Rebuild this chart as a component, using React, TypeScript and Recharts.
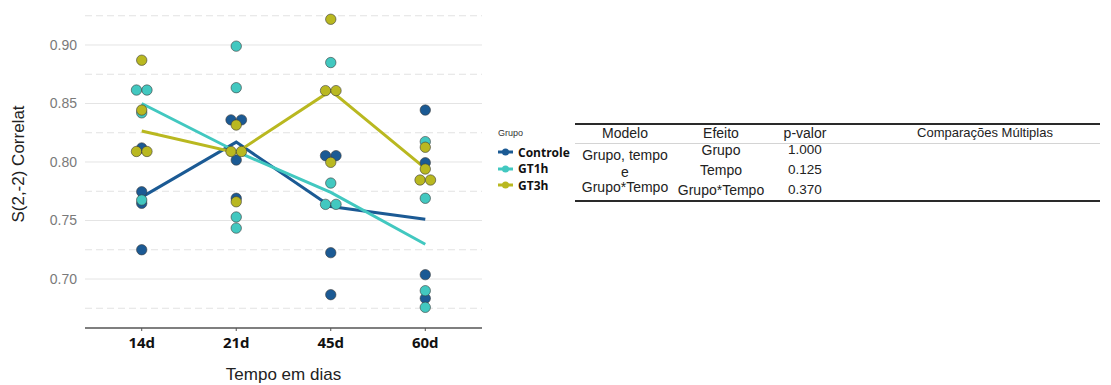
import React from 'react';
import {
  ComposedChart,
  Scatter,
  Line,
  XAxis,
  YAxis,
  CartesianGrid,
  Legend,
  Label,
} from 'recharts';

// Sampling days on the x axis
const days = ['14d', '21d', '45d', '60d'];

// Individual S(2,-2) correlation values per animal, one list per day
const controleValues = [
  [0.812, 0.7746, 0.7647, 0.725],
  [0.836, 0.836, 0.8017, 0.769],
  [0.8054, 0.8054, 0.7225, 0.6866],
  [0.8444, 0.7994, 0.7037, 0.6835],
];
const gt1hValues = [
  [0.8615, 0.8615, 0.842, 0.7675],
  [0.899, 0.8635, 0.753, 0.7435],
  [0.885, 0.782, 0.7638, 0.7638],
  [0.8174, 0.769, 0.69, 0.6758],
];
const gt3hValues = [
  [0.887, 0.8444, 0.809, 0.809],
  [0.8316, 0.809, 0.809, 0.766],
  [0.922, 0.861, 0.861, 0.7997],
  [0.8126, 0.794, 0.7846, 0.7846],
];

// Group trend per day
const controleTrend = [0.77, 0.817, 0.762, 0.751];
const gt1hTrend = [0.85, 0.809, 0.774, 0.7297];
const gt3hTrend = [0.8265, 0.808, 0.861, 0.7946];

// Axis ticks
const majorTicks = [0.7, 0.75, 0.8, 0.85, 0.9];
const minorTicks = [0.675, 0.725, 0.775, 0.825, 0.875, 0.925];

// Statistics table
const tableHeader = ['Modelo', 'Efeito', 'p-valor', 'Comparações Múltiplas'];
const modelLines = ['Grupo, tempo', 'e', 'Grupo*Tempo'];
const effects = ['Grupo', 'Tempo', 'Grupo*Tempo'];
const pValues = ['1.000', '0.125', '0.370'];

const groups = [
  { name: 'Controle', color: '#1b5a94', values: controleValues, trend: controleTrend },
  { name: 'GT1h', color: '#42c8c0', values: gt1hValues, trend: gt1hTrend },
  { name: 'GT3h', color: '#b9b820', values: gt3hValues, trend: gt3hTrend },
];

const DODGE = 10.5;
const AXIS_FONT = '"Liberation Sans", Arial, sans-serif';
const BOLD_FONT = '"Open Sans", "Liberation Sans", sans-serif';

// Points with identical values on the same day are placed side by side
function buildPoints(values: number[][]) {
  const pts: { x: number; y: number; slot: number; n: number }[] = [];
  values.forEach((dayVals, i) => {
    const seen: Record<string, number> = {};
    dayVals.forEach((v) => {
      const key = v.toFixed(4);
      const n = dayVals.filter((w) => w.toFixed(4) === key).length;
      const slot = seen[key] ?? 0;
      seen[key] = slot + 1;
      pts.push({ x: i + 1, y: v, slot, n });
    });
  });
  return pts;
}

function buildTrend(trend: number[]) {
  return trend.map((y, i) => ({ x: i + 1, y }));
}

const makeDot = (color: string) => (props: any) => {
  const { cx, cy, payload } = props;
  if (cx == null || cy == null) return <g />;
  const off = (payload.slot - (payload.n - 1) / 2) * DODGE;
  return (
    <circle cx={cx + off} cy={cy} r={5.2} fill={color} stroke="#3b3b3b" strokeWidth={0.6} />
  );
};

const LegendBox = () => (
  <div style={{ fontFamily: BOLD_FONT }}>
    <div style={{ fontFamily: AXIS_FONT, fontSize: 9, color: '#333', marginBottom: 6, marginLeft: 2 }}>
      Grupo
    </div>
    {groups.map((g) => (
      <div key={g.name} style={{ display: 'flex', alignItems: 'center', height: 16.5 }}>
        <svg width={18} height={10} style={{ marginRight: 4 }}>
          <line x1={2} y1={5} x2={17} y2={5} stroke={g.color} strokeWidth={3} />
          <circle cx={9.5} cy={5} r={3.5} fill={g.color} />
        </svg>
        <span style={{ fontSize: 12, fontWeight: 700, color: '#111' }}>{g.name}</span>
      </div>
    ))}
  </div>
);

const cell = (text: string, cx: number, cy: number, key: string, size: number) => (
  <div
    key={key}
    style={{
      position: 'absolute',
      left: cx - 100,
      top: cy - 9,
      width: 200,
      height: 18,
      lineHeight: '18px',
      textAlign: 'center',
      whiteSpace: 'nowrap',
      fontSize: size,
    }}
  >
    {text}
  </div>
);

const StatsTable = () => {
  const colX = [50, 146, 230, 410];
  const rowY = [27, 47, 67];
  const modelY = [32, 48.5, 64];
  return (
    <div
      style={{
        position: 'absolute',
        left: 575,
        top: 123,
        width: 525,
        height: 80,
        fontFamily: AXIS_FONT,
        color: '#222',
      }}
    >
      <div style={{ position: 'absolute', left: 0, top: 0, width: 525, height: 2, background: '#2a2a2a' }} />
      <div style={{ position: 'absolute', left: 0, top: 20, width: 525, height: 1, background: '#d4d4d4' }} />
      <div style={{ position: 'absolute', left: 0, top: 77, width: 525, height: 2, background: '#2a2a2a' }} />
      {tableHeader.map((h, i) => cell(h, colX[i], 10, 'h' + i, i === 3 ? 13 : 14))}
      {modelLines.map((t, i) => cell(t, colX[0], modelY[i], 'm' + i, 14))}
      {effects.map((t, i) => cell(t, colX[1], rowY[i], 'e' + i, 14))}
      {pValues.map((t, i) => cell(t, colX[2], rowY[i], 'p' + i, 13.5))}
    </div>
  );
};

export default function App() {
  return (
    <div style={{ position: 'absolute', left: 0, top: 0, width: 1111, height: 385, background: '#fff' }}>
      <ComposedChart
        width={575}
        height={385}
        margin={{ top: 0, right: 93, bottom: 0, left: 0 }}
      >
        <CartesianGrid vertical={false} horizontalValues={majorTicks} stroke="#e4e4e4" strokeWidth={1} />
        <CartesianGrid vertical={false} horizontalValues={minorTicks} stroke="#e2e2e2" strokeDasharray="7 4" strokeWidth={1} />
        <XAxis
          type="number"
          dataKey="x"
          domain={[0.4, 4.6]}
          ticks={[1, 2, 3, 4]}
          tickFormatter={(v: number) => days[v - 1]}
          height={57}
          allowDataOverflow
          axisLine={{ stroke: '#555', strokeWidth: 1.5 }}
          tickLine={{ stroke: '#555' }}
          tickSize={3}
          tickMargin={6}
          tick={{ fill: '#111', fontSize: 15, fontWeight: 700, fontFamily: BOLD_FONT }}
        >
          <Label
            content={(p: any) => {
              const vb = p.viewBox || {};
              return (
                <text
                  x={vb.x + vb.width / 2}
                  y={374}
                  textAnchor="middle"
                  dominantBaseline="central"
                  fontSize={17}
                  fontFamily={AXIS_FONT}
                  fill="#222"
                >
                  Tempo em dias
                </text>
              );
            }}
          />
        </XAxis>
        <YAxis
          type="number"
          dataKey="y"
          domain={[0.65812, 0.93846]}
          ticks={majorTicks}
          allowDataOverflow
          width={85}
          axisLine={false}
          tickLine={false}
          tickSize={0}
          tickMargin={8}
          tickFormatter={(v: number) => v.toFixed(2)}
          tick={{ fill: '#7a7a7a', fontSize: 14, fontFamily: AXIS_FONT }}
        >
          <Label
            content={(p: any) => {
              const vb = p.viewBox || {};
              const cy = vb.y + vb.height / 2;
              return (
                <text
                  x={18}
                  y={cy}
                  textAnchor="middle"
                  dominantBaseline="central"
                  transform={`rotate(-90, 18, ${cy})`}
                  fontSize={17}
                  fontFamily={AXIS_FONT}
                  fill="#222"
                >
                  S(2,-2) Correlat
                </text>
              );
            }}
          />
        </YAxis>
        {groups.map((g) => (
          <Scatter
            key={'s' + g.name}
            name={g.name}
            data={buildPoints(g.values)}
            dataKey="y"
            fill={g.color}
            shape={makeDot(g.color)}
            isAnimationActive={false}
          />
        ))}
        {groups.map((g) => (
          <Line
            key={'l' + g.name}
            name={g.name}
            data={buildTrend(g.trend)}
            dataKey="y"
            type="linear"
            stroke={g.color}
            strokeWidth={3}
            dot={false}
            activeDot={false}
            legendType="none"
            isAnimationActive={false}
          />
        ))}
        <Legend
          layout="vertical"
          align="center"
          verticalAlign="middle"
          content={() => <LegendBox />}
          wrapperStyle={{ left: 496, top: 128, width: 80 }}
        />
      </ComposedChart>
      <StatsTable />
    </div>
  );
}
